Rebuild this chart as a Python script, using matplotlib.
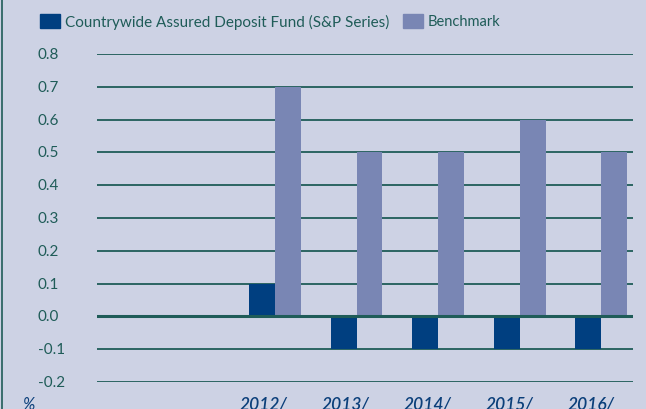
import numpy as np
import matplotlib.pyplot as plt
from matplotlib.patches import Rectangle

years = ['2010/', '2011/', '2012/', '2013/', '2014/', '2015/', '2016/']
tick_labels = ['', '', '2012/', '2013/', '2014/', '2015/', '2016/']
fund = [np.nan, np.nan, 0.1, -0.1, -0.1, -0.1, -0.1]
benchmark = [np.nan, np.nan, 0.7, 0.5, 0.5, 0.6, 0.5]
yticks = [0.8, 0.7, 0.6, 0.5, 0.4, 0.3, 0.2, 0.1, 0.0, -0.1, -0.2]

bg = '#cdd2e4'
green = '#1f5c58'
fund_col = '#003f80'
bench_col = '#7986b4'
label_blue = '#0b3f7a'

plt.rcParams['font.family'] = ['Lato', 'DejaVu Sans']

fig = plt.figure(figsize=(6.46, 4.10), dpi=100, facecolor=bg)
ax = fig.add_axes([97/646, 27/410, (633-97)/646, (383-55)/410])
ax.set_facecolor(bg)

x = np.arange(len(years))
w = 0.317
ax.bar(x - w/2, fund, w, color=fund_col, zorder=2)
ax.bar(x + w/2, benchmark, w, color=bench_col, zorder=2)

for v in yticks:
    if v == 0.0:
        ax.axhline(v, color=green, lw=2.2, zorder=3)
    else:
        ax.axhline(v, color=green, lw=1.3, zorder=1)

ax.set_xlim(-0.183, 6.39)
ax.set_ylim(-0.2, 0.8)
for s in ax.spines.values():
    s.set_visible(False)
ax.set_xticks([])
ax.set_yticks([])

# y labels, left aligned as in the original
for v in yticks:
    yp = 383 - (v + 0.2) * 328
    fig.text(38/646, 1 - yp/410, '%.1f' % v, ha='left', va='center',
             fontsize=11, color=green)

# x labels (cut off at bottom like the original)
for i, lab in enumerate(tick_labels):
    if lab:
        xp = 97 + (x[i] + 0.183) * 82 - 12.5
        fig.text(xp/646, 1 - 397/410, lab, ha='center', va='top',
                 fontsize=12.5, color=label_blue, style='italic',
                 weight='semibold')
fig.text(28.5/646, 1 - 397/410, '%', ha='center', va='top', fontsize=12,
         color=label_blue, style='italic')

# legend
fig.patches.append(Rectangle((40/646, 1 - 29/410), 20/646, 14/410,
                             transform=fig.transFigure, color=fund_col))
fig.text(65/646, 1 - 22/410, 'Countrywide Assured Deposit Fund (S&P Series)',
         ha='left', va='center', fontsize=11, color=green)
fig.patches.append(Rectangle((403/646, 1 - 29/410), 20/646, 14/410,
                             transform=fig.transFigure, color=bench_col))
fig.text(428/646, 1 - 22/410, 'Benchmark', ha='left', va='center',
         fontsize=10.5, color=green)

# left border
fig.add_artist(plt.Line2D([2/646, 2/646], [0, 1], transform=fig.transFigure,
                          color=green, lw=1.2))

fig.savefig('out.png', dpi=100, facecolor=bg)
